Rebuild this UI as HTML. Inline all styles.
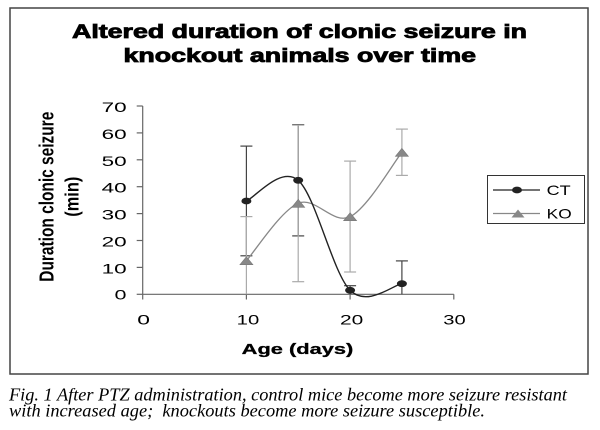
<!DOCTYPE html>
<html>
<head>
<meta charset="utf-8">
<style>
html,body{margin:0;padding:0;background:#fff;}
svg{display:block;}
text{font-family:"Liberation Sans",Arial,sans-serif;}
text.cap{font-family:"Liberation Serif","Times New Roman",serif;font-style:italic;}
</style>
</head>
<body>
<svg width="600" height="430" viewBox="0 0 600 430" xmlns="http://www.w3.org/2000/svg">
<rect x="0" y="0" width="600" height="430" fill="#fff"/>
<!-- outer frame -->
<rect x="10" y="8" width="578" height="366" fill="none" stroke="#444" stroke-width="1.5"/>

<!-- title -->
<text x="72" y="38" font-size="19" font-weight="bold" fill="#000" stroke="#000" stroke-width="0.8" textLength="455" lengthAdjust="spacingAndGlyphs">Altered duration of clonic seizure in</text>
<text x="123.5" y="62" font-size="19" font-weight="bold" fill="#000" stroke="#000" stroke-width="0.8" textLength="352.5" lengthAdjust="spacingAndGlyphs">knockout animals over time</text>

<!-- y axis label -->
<text transform="translate(53.5,281.7) rotate(-90)" x="0" y="0" font-size="20" font-weight="bold" fill="#000" textLength="170" lengthAdjust="spacingAndGlyphs">Duration clonic seizure</text>
<text transform="translate(78.5,216.7) rotate(-90)" x="0" y="0" font-size="19" font-weight="bold" fill="#000" textLength="40" lengthAdjust="spacingAndGlyphs">(min)</text>

<!-- axes -->
<g stroke="#666" stroke-width="1.2" fill="none">
  <line x1="142.7" y1="106" x2="142.7" y2="294.3"/>
  <line x1="142.7" y1="294.3" x2="453.8" y2="294.3"/>
  <line x1="136.7" y1="106" x2="142.7" y2="106"/>
  <line x1="136.7" y1="132.9" x2="142.7" y2="132.9"/>
  <line x1="136.7" y1="159.8" x2="142.7" y2="159.8"/>
  <line x1="136.7" y1="186.7" x2="142.7" y2="186.7"/>
  <line x1="136.7" y1="213.6" x2="142.7" y2="213.6"/>
  <line x1="136.7" y1="240.5" x2="142.7" y2="240.5"/>
  <line x1="136.7" y1="267.4" x2="142.7" y2="267.4"/>
  <line x1="136.7" y1="294.3" x2="142.7" y2="294.3"/>
  <line x1="142.7" y1="294.3" x2="142.7" y2="299.5"/>
  <line x1="246.4" y1="294.3" x2="246.4" y2="299.5"/>
  <line x1="350.1" y1="294.3" x2="350.1" y2="299.5"/>
  <line x1="453.8" y1="294.3" x2="453.8" y2="299.5"/>
</g>

<!-- y tick labels -->
<g font-size="14" fill="#000">
  <text x="101.7" y="112" textLength="25" lengthAdjust="spacingAndGlyphs">70</text>
  <text x="101.7" y="138.9" textLength="25" lengthAdjust="spacingAndGlyphs">60</text>
  <text x="101.7" y="165.8" textLength="25" lengthAdjust="spacingAndGlyphs">50</text>
  <text x="101.7" y="192.7" textLength="25" lengthAdjust="spacingAndGlyphs">40</text>
  <text x="101.7" y="219.6" textLength="25" lengthAdjust="spacingAndGlyphs">30</text>
  <text x="101.7" y="246.5" textLength="25" lengthAdjust="spacingAndGlyphs">20</text>
  <text x="101.7" y="273.4" textLength="25" lengthAdjust="spacingAndGlyphs">10</text>
  <text x="114.5" y="299.5" textLength="12" lengthAdjust="spacingAndGlyphs">0</text>
</g>

<!-- x tick labels -->
<g font-size="14" fill="#000">
  <text x="137.3" y="324.3" textLength="12.7" lengthAdjust="spacingAndGlyphs">0</text>
  <text x="236.7" y="324.3" textLength="22.6" lengthAdjust="spacingAndGlyphs">10</text>
  <text x="340" y="324.3" textLength="23.3" lengthAdjust="spacingAndGlyphs">20</text>
  <text x="443.3" y="324.3" textLength="22.4" lengthAdjust="spacingAndGlyphs">30</text>
</g>

<!-- x axis label -->
<text x="241.7" y="354" font-size="15" font-weight="bold" fill="#000" stroke="#000" stroke-width="0.3" textLength="111.6" lengthAdjust="spacingAndGlyphs">Age (days)</text>

<!-- CT error bars (dark) -->
<g stroke="#444" stroke-width="1.2" fill="none">
  <line x1="246.4" y1="146.1" x2="246.4" y2="255.8"/>
  <line x1="240.4" y1="146.1" x2="252.4" y2="146.1"/>
  <line x1="240.4" y1="255.8" x2="252.4" y2="255.8"/>
  <line x1="298.2" y1="124.6" x2="298.2" y2="235.9"/>
  <line x1="292.2" y1="124.6" x2="304.2" y2="124.6"/>
  <line x1="292.2" y1="235.9" x2="304.2" y2="235.9"/>
  <line x1="350.1" y1="285.7" x2="350.1" y2="294.3"/>
  <line x1="344.1" y1="285.7" x2="356.1" y2="285.7"/>
  <line x1="401.9" y1="260.9" x2="401.9" y2="294.3"/>
  <line x1="395.9" y1="260.9" x2="407.9" y2="260.9"/>
</g>

<!-- KO error bars (light) -->
<g stroke="#aaa" stroke-width="1.2" fill="none">
  <line x1="246.4" y1="216.6" x2="246.4" y2="294.3"/>
  <line x1="240.4" y1="216.6" x2="252.4" y2="216.6"/>
  <line x1="298.2" y1="125.1" x2="298.2" y2="281.7"/>
  <line x1="292.2" y1="125.1" x2="304.2" y2="125.1"/>
  <line x1="292.2" y1="281.7" x2="304.2" y2="281.7"/>
  <line x1="350.1" y1="161.1" x2="350.1" y2="272"/>
  <line x1="344.1" y1="161.1" x2="356.1" y2="161.1"/>
  <line x1="344.1" y1="272" x2="356.1" y2="272"/>
  <line x1="401.9" y1="129.1" x2="401.9" y2="175.4"/>
  <line x1="395.9" y1="129.1" x2="407.9" y2="129.1"/>
  <line x1="395.9" y1="175.4" x2="407.9" y2="175.4"/>
</g>

<!-- KO series -->
<path d="M246.4,260.7 C255.0,251.1 280.9,210.6 298.2,203.3 C315.5,196.0 332.8,225.2 350.1,216.7 C367.4,208.2 393.3,163.0 401.9,152.3" fill="none" stroke="#888" stroke-width="1.3"/>
<g fill="#888" stroke="#777" stroke-width="0.6">
  <polygon points="239.9,264.7 252.9,264.7 246.4,256.7"/>
  <polygon points="291.7,207.3 304.7,207.3 298.2,199.3"/>
  <polygon points="343.6,220.7 356.6,220.7 350.1,212.7"/>
  <polygon points="395.4,156.3 408.4,156.3 401.9,148.3"/>
</g>

<!-- CT series -->
<path d="M246.4,201.0 C255.0,197.55 280.9,165.4 298.2,180.3 C315.5,195.2 332.8,273.1 350.1,290.3 C367.4,307.5 393.3,284.8 401.9,283.7" fill="none" stroke="#222" stroke-width="1.4"/>
<g fill="#222">
  <ellipse cx="246.4" cy="201.0" rx="5" ry="3.4"/>
  <ellipse cx="298.2" cy="180.3" rx="5" ry="3.4"/>
  <ellipse cx="350.1" cy="290.3" rx="5" ry="3.4"/>
  <ellipse cx="401.9" cy="283.7" rx="5" ry="3.4"/>
</g>

<!-- legend -->
<rect x="487.5" y="175.5" width="97" height="48" fill="#fff" stroke="#333" stroke-width="1"/>
<line x1="493" y1="190" x2="540" y2="190" stroke="#222" stroke-width="1.2"/>
<ellipse cx="517" cy="190" rx="5" ry="3.4" fill="#222"/>
<text x="546.7" y="195.2" font-size="14" fill="#000" textLength="24" lengthAdjust="spacingAndGlyphs">CT</text>
<line x1="493" y1="213.5" x2="540" y2="213.5" stroke="#888" stroke-width="1.2"/>
<polygon points="511.5,217.5 524.5,217.5 518,209.5" fill="#888"/>
<text x="546.7" y="218.4" font-size="14" fill="#000" textLength="25" lengthAdjust="spacingAndGlyphs">KO</text>

<!-- caption -->
<text class="cap" x="9" y="400.7" font-size="18" fill="#000" textLength="558" lengthAdjust="spacingAndGlyphs">Fig. 1 After PTZ administration, control mice become more seizure resistant</text>
<text class="cap" x="9" y="416.7" font-size="18" fill="#000" textLength="476" lengthAdjust="spacingAndGlyphs">with increased age;&#160; knockouts become more seizure susceptible.</text>
</svg>
</body>
</html>
